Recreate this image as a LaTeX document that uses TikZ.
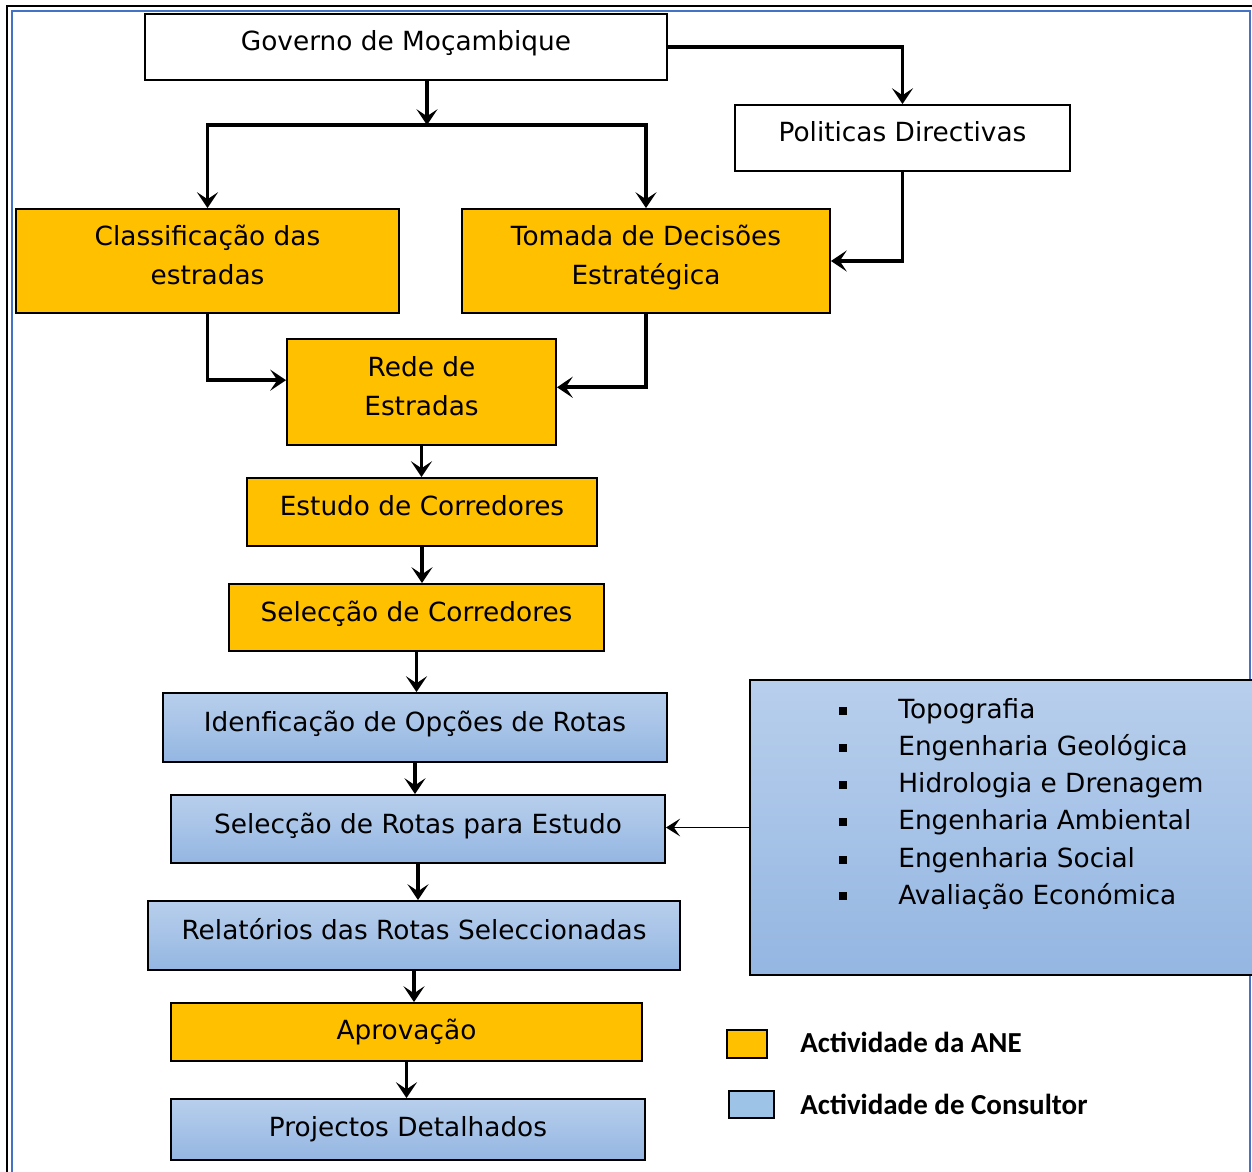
\documentclass[tikz,border=0pt]{standalone}
\usepackage{fontspec}
\setmainfont{DejaVu Sans}
\newfontfamily\legfont{Carlito}
\usetikzlibrary{arrows.meta}
\definecolor{aneorange}{RGB}{255,192,0}
\definecolor{consTop}{RGB}{184,207,236}
\definecolor{consBot}{RGB}{148,182,226}
\definecolor{legblue}{RGB}{157,195,230}
\definecolor{frameblue}{RGB}{68,114,196}
\def\pxu{0.02cm}
\begin{document}
\begin{tikzpicture}[x=0.02cm,y=-0.02cm,
  box/.style={draw=black, line width=1.1pt, inner sep=0pt, align=center,
    font=\fontsize{15}{22}\selectfont},
  lift/.style={execute at end node={\rule[-7pt]{0pt}{1pt}}},
  wbox/.style={box, fill=white},
  obox/.style={box, fill=aneorange},
  bbox/.style={box, top color=consTop, bottom color=consBot},
  tip/.style={-{Stealth[length=9pt,width=12pt,inset=4pt]}},
  conn/.style={line width=2.2pt, tip},
  thinconn/.style={line width=1.1pt, -{Stealth[length=8pt,width=10pt,inset=3.5pt]}},
  item/.style={anchor=west, inner sep=0pt, font=\fontsize{15}{18}\selectfont},
  bullet/.style={fill=black, inner sep=0pt, minimum size=8*\pxu},
  legtext/.style={anchor=west, inner sep=0pt, font=\legfont\bfseries\fontsize{16.5}{20}\selectfont},
  legbox/.style={draw=black, line width=1.1pt, inner sep=0pt}
]
\useasboundingbox (0,0) rectangle (1252,1171);
\fill[white] (0,0) rectangle (1252,1171);
% frame
\draw[black, line width=1.2pt] (7,1175) -- (7,6) -- (1256,6);
\draw[frameblue, line width=1pt] (12,1175) -- (12,11) -- (1250,11) -- (1250,1175);

% boxes
\node[wbox, lift, minimum width=522*\pxu, minimum height=66*\pxu] (gov) at (406,47) {Governo de Moçambique};
\node[wbox, lift, minimum width=335*\pxu, minimum height=66*\pxu] (pol) at (902.5,138) {Politicas Directivas};
\node[obox, lift, minimum width=383*\pxu, minimum height=104*\pxu] (clas) at (207.5,261) {Classificação das\\estradas};
\node[obox, lift, minimum width=368*\pxu, minimum height=104*\pxu] (tom) at (646,261) {Tomada de Decisões\\Estratégica};
\node[obox, lift, minimum width=269*\pxu, minimum height=106*\pxu] (rede) at (421.5,392) {Rede de\\Estradas};
\node[obox, lift, minimum width=350*\pxu, minimum height=68*\pxu] (est) at (422,512) {Estudo de Corredores};
\node[obox, lift, minimum width=375*\pxu, minimum height=67*\pxu] (selc) at (416.5,617.5) {Selecção de Corredores};
\node[bbox, lift, minimum width=504*\pxu, minimum height=69*\pxu] (ident) at (415,727.5) {Idenficação de Opções de Rotas};
\node[bbox, lift, minimum width=494*\pxu, minimum height=68*\pxu] (rot) at (418,829) {Selecção de Rotas para Estudo};
\node[bbox, lift, minimum width=532*\pxu, minimum height=69*\pxu] (rel) at (414,935.5) {Relatórios das Rotas Seleccionadas};
\node[obox, minimum width=471*\pxu, minimum height=58*\pxu] (apr) at (406.5,1032) {Aprovação};
\node[bbox, minimum width=474*\pxu, minimum height=61*\pxu] (proj) at (408,1129.5) {Projectos Detalhados};
\node[bbox, minimum width=506*\pxu, minimum height=295*\pxu] (big) at (1003,827.5) {};

% list in big box
\node[bullet] (b1) at (843,711) {}; \node[item] (t1) at (898,711) {Topografia};
\node[bullet] (b2) at (843,748) {}; \node[item] (t2) at (898,748) {Engenharia Geológica};
\node[bullet] (b3) at (843,785) {}; \node[item] (t3) at (898,785) {Hidrologia e Drenagem};
\node[bullet] (b4) at (843,822) {}; \node[item] (t4) at (898,822) {Engenharia Ambiental};
\node[bullet] (b5) at (843,860) {}; \node[item] (t5) at (898,860) {Engenharia Social};
\node[bullet] (b6) at (843,896) {}; \node[item] (t6) at (898,896) {Avaliação Económica};

% legend
\node[legbox, fill=aneorange, minimum width=40*\pxu, minimum height=28*\pxu] (lg1) at (747,1044) {};
\node[legtext] (lt1) at (800,1042) {Actividade da ANE};
\node[legbox, fill=legblue, minimum width=45*\pxu, minimum height=27*\pxu] (lg2) at (751.5,1104.5) {};
\node[legtext] (lt2) at (800,1104) {Actividade de Consultor};

% connectors
\coordinate (j) at (427,125);
\draw[conn] (gov.south -| j) -- (j);
\draw[line width=2.2pt, {Stealth[length=9pt,width=12pt,inset=4pt]}-{Stealth[length=9pt,width=12pt,inset=4pt]}]
  (clas.north) |- (j) -| (tom.north);
\draw[conn] (gov.east) -| (pol.north);
\draw[conn] (pol.south) |- (tom.east);
\draw[conn] (clas.south) |- (rede.175);
\draw[conn] (tom.south) |- (rede.2);
\draw[conn] (rede.south) -- (rede.south |- est.north);
\draw[conn] (est.south) -- (est.south |- selc.north);
\draw[conn] (selc.south) -- (selc.south |- ident.north);
\draw[conn] (ident.south) -- (ident.south |- rot.north);
\draw[conn] (rot.south) -- (rot.south |- rel.north);
\draw[conn] (rel.south) -- (rel.south |- apr.north);
\draw[conn] (apr.south) -- (apr.south |- proj.north);
\draw[thinconn] (big.west) -- (big.west -| rot.east);
\end{tikzpicture}
\end{document}
